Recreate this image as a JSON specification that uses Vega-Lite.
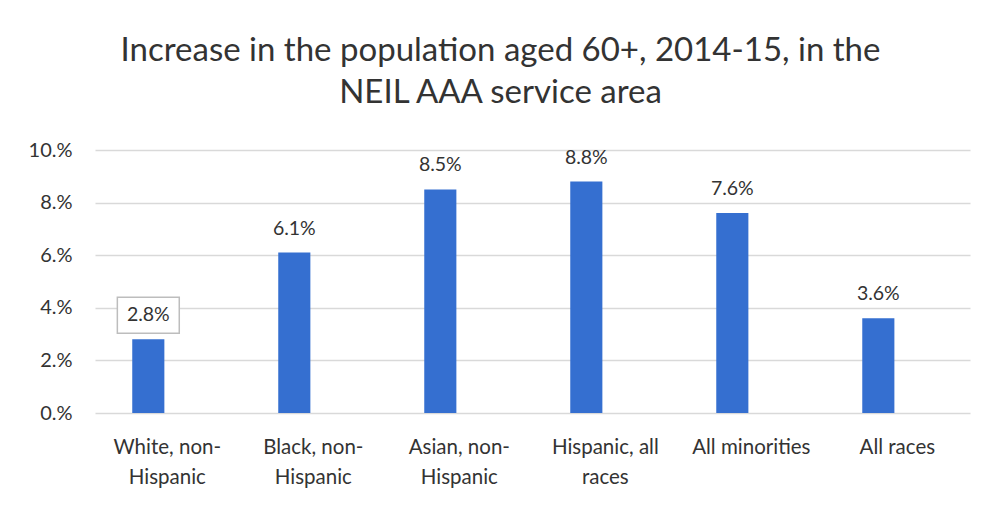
{
  "$schema": "https://vega.github.io/schema/vega-lite/v6.json",
  "autosize": {"type": "none"},
  "width": 875,
  "height": 263,
  "padding": {"left": 95, "top": 150, "right": 19, "bottom": 93},
  "background": "white",
  "config": {"view": {"stroke": null}, "font": "Lato"},
  "title": {
    "text": ["Increase in the population aged 60+, 2014-15, in the", "NEIL AAA service area"],
    "fontSize": 33,
    "fontWeight": "normal",
    "color": "#333333",
    "font": "Lato",
    "lineHeight": 42,
    "anchor": "middle",
    "dx": -32,
    "offset": 30
  },
  "data": {
    "values": [
      {"category": "White, non-Hispanic", "pct": 0.028},
      {"category": "Black, non-Hispanic", "pct": 0.061},
      {"category": "Asian, non-Hispanic", "pct": 0.085},
      {"category": "Hispanic, all races", "pct": 0.088},
      {"category": "All minorities", "pct": 0.076},
      {"category": "All races", "pct": 0.036}
    ]
  },
  "encoding": {
    "x": {
      "field": "category",
      "type": "nominal",
      "sort": null,
      "scale": {"paddingInner": 0.78, "paddingOuter": 0.3865, "align": 0.33},
      "axis": {
        "title": null,
        "labelAngle": 0,
        "domain": false,
        "ticks": false,
        "labelFontSize": 20.5,
        "labelColor": "#333333",
        "labelPadding": 24,
        "labelLineHeight": 30,
        "labelOffset": 19,
        "labelExpr": "indexof(datum.label,'-') > 0 ? [slice(datum.label,0,indexof(datum.label,'-')+1), slice(datum.label,indexof(datum.label,'-')+1)] : (datum.label == 'Hispanic, all races' ? ['Hispanic, all','races'] : datum.label)"
      }
    },
    "y": {
      "field": "pct",
      "type": "quantitative",
      "scale": {"domain": [0, 0.1]},
      "axis": {
        "title": null,
        "values": [0, 0.02, 0.04, 0.06, 0.08, 0.1],
        "labelExpr": "format(datum.value*100,'.0f') + '.%'",
        "labelFontSize": 20,
        "labelColor": "#333333",
        "labelPadding": 23,
        "domain": false,
        "ticks": false,
        "gridColor": "#d9d9d9",
        "gridWidth": 1.5
      }
    }
  },
  "layer": [
    {"mark": {"type": "bar", "color": "#356fd0"}},
    {
      "transform": [{"filter": "datum.category == 'White, non-Hispanic'"}],
      "mark": {
        "type": "point",
        "shape": "M-0.86,-0.5H0.86V0.5H-0.86Z",
        "filled": false,
        "fill": "white",
        "fillOpacity": 1,
        "stroke": "#bdbdbd",
        "strokeWidth": 1.5,
        "opacity": 1,
        "size": 5184
      },
      "encoding": {"yOffset": {"value": -24}}
    },
    {
      "mark": {"type": "text", "baseline": "middle", "dy": -24, "fontSize": 19.5, "color": "#333333"},
      "encoding": {"text": {"field": "pct", "type": "quantitative", "format": ".1%"}}
    }
  ]
}
